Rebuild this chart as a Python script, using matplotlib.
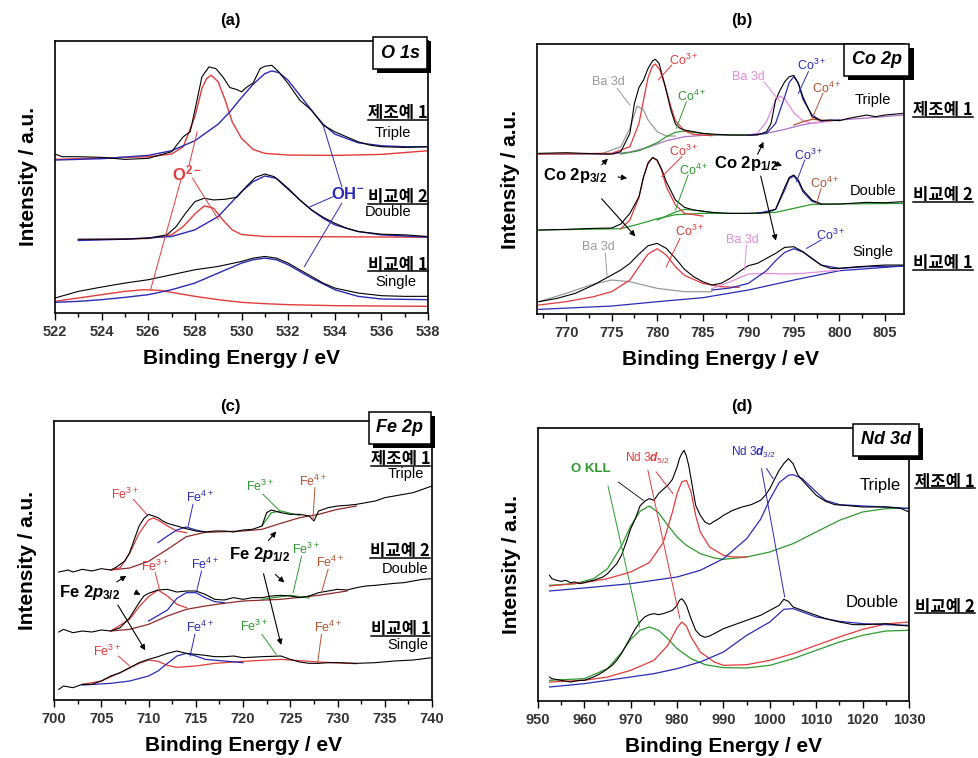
import matplotlib
matplotlib.use("Agg")
import matplotlib.pyplot as plt
import matplotlib.patheffects as pe
from matplotlib.lines import Line2D
from matplotlib.ticker import MultipleLocator

plt.rcParams['font.family'] = ['Liberation Sans', 'Noto Sans CJK KR', 'DejaVu Sans']
plt.rcParams['mathtext.fontset'] = 'custom'
plt.rcParams['mathtext.it'] = 'Liberation Sans:italic:bold'
plt.rcParams['mathtext.default'] = 'regular'

RED = '#e23b3b'
BLUE = '#2b2bb5'
GREEN = '#2f9a2f'
GRAY = '#9a9a9a'
PINK = '#e58be0'
BROWN = '#b5532f'
VIOLET = '#b070c8'
DKRED = '#8e2a2a'

# ---------------- (a) O 1s : (binding energy, intensity a.u.) ----------------
a_tri_data = [(522, 478), (522.3, 470), (523, 470), (524, 468), (525, 462), (526, 465), (527, 485),
              (527.5, 530), (527.8, 545), (528, 610), (528.3, 710), (528.6, 740), (528.9, 735),
              (529.2, 710), (529.5, 678), (529.8, 672), (530, 665), (530.2, 678), (530.5, 692),
              (530.8, 735), (531, 742), (531.3, 745), (531.6, 725), (532, 690), (532.5, 640),
              (533, 610), (533.5, 565), (534, 545), (534.5, 530), (535, 515), (535.5, 505),
              (536, 500), (537, 498), (538, 500)]
a_tri_o2 = [(522, 462), (524, 466), (526, 470), (527, 478), (527.5, 500), (528, 590), (528.3, 675),
            (528.5, 705), (528.7, 715), (529, 695), (529.3, 640), (529.6, 575), (530, 525),
            (530.5, 492), (531, 480), (532, 475), (534, 474), (536, 477), (538, 488)]
a_tri_oh = [(522, 460), (524, 464), (526, 474), (527, 488), (528, 518), (529, 568), (529.5, 605),
            (530, 648), (530.5, 688), (531, 720), (531.3, 728), (531.6, 723), (532, 700),
            (532.5, 655), (533, 610), (533.5, 568), (534, 538), (535, 512), (536, 503),
            (537, 500), (538, 500)]
a_dbl_data = [(523, 222), (524, 222), (525, 222), (526, 225), (526.8, 235), (527.2, 260), (527.6, 300),
              (528, 335), (528.4, 345), (528.8, 340), (529.3, 342), (529.8, 348), (530.2, 380),
              (530.6, 408), (531, 418), (531.4, 410), (532, 372), (532.5, 340), (533, 310),
              (533.5, 288), (534, 270), (534.5, 255), (535, 245), (536, 237), (537, 235), (538, 230)]
a_dbl_o2 = [(523, 220), (526, 224), (527, 235), (527.5, 260), (528, 298), (528.4, 322), (528.8, 315),
            (529.2, 280), (529.6, 250), (530, 236), (531, 230), (538, 228)]
a_dbl_oh = [(523, 218), (525, 222), (527, 230), (528, 250), (529, 290), (530, 365), (530.5, 395),
            (531, 412), (531.5, 405), (532, 375), (532.5, 340), (533, 310), (533.5, 285),
            (534, 265), (535, 245), (536, 235), (538, 228)]
a_sgl_data = [(522, 45), (522.5, 55), (523, 65), (524, 78), (525, 90), (526, 100), (527, 115),
              (528, 130), (529, 140), (530, 155), (530.5, 165), (531, 170), (531.5, 165),
              (532, 150), (532.5, 130), (533, 110), (533.5, 90), (534, 75), (535, 60),
              (536, 52), (537, 50), (538, 50)]
a_sgl_o2 = [(522, 35), (523, 45), (524, 55), (525, 65), (525.8, 70), (526.5, 68), (527, 62),
            (528, 50), (529, 40), (530, 32), (531, 28), (532, 25), (534, 22), (538, 20)]
a_sgl_oh = [(522, 32), (523, 35), (524, 40), (525, 47), (526, 55), (527, 70), (528, 90),
            (529, 120), (530, 150), (530.5, 160), (531, 165), (531.5, 160), (532, 145),
            (532.5, 125), (533, 105), (534, 70), (535, 50), (536, 42), (538, 40)]

# ---------------- (b) Co 2p ----------------
b_tri_data = [(767, 482), (770, 484), (772, 482), (774, 480), (775, 480), (776, 487), (777, 542),
              (777.5, 632), (778, 680), (778.5, 702), (779, 737), (779.5, 760), (779.8, 764),
              (780.2, 752), (780.8, 692), (781.5, 612), (782, 570), (782.5, 557), (783, 552),
              (784, 547), (785, 542), (786, 540), (788, 537), (790, 537), (791, 537), (792, 547),
              (792.5, 572), (793, 642), (793.5, 672), (794, 697), (794.5, 712), (795, 716),
              (795.5, 692), (796, 652), (796.5, 622), (797, 592), (798, 580), (799, 582),
              (800, 580), (801, 587), (802, 592), (803, 597), (804, 592), (805, 597), (807, 602)]
b_tri_co3a = [(767, 480), (775, 482), (777, 502), (778, 572), (778.5, 642), (779, 710), (779.5, 745),
              (779.8, 750), (780.3, 732), (781, 672), (781.5, 622), (782, 580), (783, 549),
              (784, 539), (786, 535)]
b_tri_ba1 = [(767, 479), (774, 482), (776, 502), (777, 557), (777.8, 624), (778.5, 612), (779, 582),
             (780, 547), (781, 534), (782, 534)]
b_tri_co4a = [(776, 480), (778, 490), (780, 514), (781, 532), (782, 545), (783, 549), (784, 545),
              (786, 538), (790, 537)]
b_tri_bg = [(767, 479), (775, 480), (777, 486), (779, 500), (781, 520), (783, 532), (785, 536),
            (790, 537), (792, 542), (794, 554), (796, 568), (798, 577), (800, 582), (803, 588),
            (807, 597)]
b_tri_ba2 = [(790, 537), (791, 542), (792, 577), (793, 642), (793.5, 654), (794, 646), (795, 604),
             (796, 580), (797, 572), (799, 578)]
b_tri_co3b = [(790, 536), (792, 542), (793, 572), (794, 652), (794.5, 695), (795, 712), (795.5, 692),
              (796, 644), (797, 597), (798, 580), (800, 582)]
b_tri_co4b = [(795, 567), (796, 577), (797, 584), (798, 582), (799, 580)]
b_dbl_data = [(767, 252), (770, 254), (773, 257), (775, 258), (776, 270), (777, 302), (778, 352),
              (778.5, 412), (779, 452), (779.5, 470), (780, 462), (780.5, 434), (781, 397),
              (781.5, 370), (782, 342), (783, 320), (784, 312), (786, 305), (788, 302), (790, 302),
              (792, 304), (793, 314), (794, 380), (794.5, 410), (795, 417), (795.5, 402),
              (796, 372), (797, 342), (798, 330), (800, 330), (803, 335), (805, 334), (807, 337)]
b_dbl_co3a = [(776, 256), (777, 282), (778, 350), (778.5, 410), (779, 455), (779.5, 469), (780, 460),
              (780.5, 430), (781, 382), (782, 327), (783, 302), (785, 294)]
b_dbl_bg = [(767, 252), (776, 256), (778, 270), (780, 286), (782, 298), (785, 302), (790, 302),
            (793, 305), (795, 317), (797, 329), (800, 330), (807, 332)]
b_dbl_co4a = [(780, 282), (782, 306), (783, 314), (784, 312), (786, 305)]
b_dbl_co3b = [(791, 302), (793, 314), (794, 372), (794.5, 406), (795, 414), (795.5, 397), (796, 367),
              (797, 338), (798, 330)]
b_sgl_data = [(767, 37), (769, 47), (771, 62), (773, 87), (775, 117), (776, 132), (777, 152), (778, 180),
              (779, 205), (780, 212), (781, 197), (782, 167), (783, 134), (784, 112), (785, 97),
              (786, 87), (787, 92), (788, 107), (789, 127), (790, 145), (791, 152), (792, 167),
              (793, 182), (794, 200), (795, 202), (796, 187), (797, 167), (798, 147), (799, 137),
              (800, 137), (802, 142), (805, 147), (807, 147)]
b_sgl_co3a = [(767, 27), (770, 37), (773, 52), (775, 67), (777, 102), (778, 142), (779, 180), (780, 196),
              (781, 177), (782, 142), (783, 116), (785, 92), (787, 82), (789, 80)]
b_sgl_ba1 = [(767, 37), (770, 62), (773, 90), (775, 102), (777, 97), (780, 77), (783, 67), (786, 67)]
b_sgl_ba2 = [(786, 76), (788, 97), (790, 120), (792, 122), (794, 120), (796, 122), (800, 132)]
b_sgl_co3b = [(786, 72), (788, 78), (790, 92), (792, 130), (793, 160), (794, 185), (795, 196),
              (796, 186), (797, 166), (798, 147), (800, 137), (803, 142), (807, 144)]
b_sgl_bg = [(767, 14), (775, 24), (780, 37), (785, 49), (790, 72), (795, 102), (800, 130), (807, 144)]

# ---------------- (c) Fe 2p ----------------
c_tri_data = [(700.5, 384), (701.5, 390), (702, 384), (703, 392), (704, 387), (705, 394), (706, 390),
              (706.5, 397), (707, 407), (707.5, 417), (708, 442), (708.5, 482), (709, 522),
              (709.5, 544), (710, 557), (710.5, 552), (711, 547), (711.5, 537), (712, 530),
              (713, 522), (714, 514), (715, 507), (716, 504), (717, 507), (718, 507), (719, 504),
              (720, 510), (721, 512), (722, 522), (722.5, 562), (723, 570), (724, 562), (725, 557),
              (726, 557), (727, 552), (727.5, 537), (728, 567), (729, 577), (730, 582), (731, 584),
              (732, 587), (733, 592), (734, 597), (735, 607), (736, 612), (737, 617), (738, 622),
              (739, 632), (740, 642)]
c_tri_fe3a = [(706, 390), (707, 397), (708, 440), (709, 500), (710, 540), (710.5, 546), (711, 540),
              (712, 522), (713, 507), (714, 502)]
c_tri_bg = [(706, 390), (708, 396), (710, 416), (712, 452), (714, 490), (716, 503), (718, 505),
            (720, 507), (722, 512), (724, 530), (726, 547), (728, 557), (730, 572), (732, 582)]
c_tri_fe4a = [(711, 472), (712, 492), (713, 510), (714, 519), (715, 510), (716, 504)]
c_tri_fe3b = [(722, 522), (723, 562), (724, 567), (725, 560), (726, 554)]
c_dbl_data = [(700.5, 204), (701, 212), (702, 202), (703, 207), (704, 204), (705, 210), (706, 207),
              (707, 217), (708, 247), (709, 292), (709.5, 312), (710, 320), (711, 330), (712, 332),
              (713, 324), (714, 327), (715, 327), (716, 317), (717, 302), (718, 300), (719, 307),
              (720, 302), (721, 307), (722, 307), (723, 312), (724, 314), (725, 312), (726, 307),
              (727, 312), (728, 322), (729, 327), (730, 332), (731, 330), (732, 337), (733, 342),
              (734, 344), (735, 347), (736, 350), (737, 352), (738, 357), (739, 362), (740, 364)]
c_dbl_fe3a = [(706, 207), (708, 242), (709, 280), (710, 310), (711, 330), (712, 312), (713, 287),
              (714, 277)]
c_dbl_bg = [(706, 207), (708, 212), (710, 227), (712, 252), (714, 272), (716, 282), (718, 290),
            (720, 297), (724, 302), (728, 314), (731, 327)]
c_dbl_fe4a = [(710, 237), (712, 270), (713, 305), (714, 322), (715, 322), (716, 307), (717, 295),
              (718, 292)]
c_dbl_fe3b = [(722, 302), (724, 310), (725, 314), (726, 310), (727, 306)]
c_sgl_data = [(700.5, 32), (701, 42), (702, 37), (703, 47), (704, 47), (705, 57), (706, 72), (707, 82),
              (708, 97), (709, 112), (710, 122), (711, 130), (712, 140), (713, 147), (714, 140),
              (715, 137), (716, 134), (717, 130), (718, 130), (719, 132), (720, 127), (722, 130),
              (724, 132), (725, 122), (726, 114), (727, 110), (728, 110), (729, 112), (730, 112),
              (732, 110), (734, 112), (736, 117), (738, 120), (740, 127)]
c_sgl_fe3a = [(703, 47), (705, 57), (707, 82), (709, 110), (710, 120), (711, 116), (712, 104),
              (713, 98), (715, 102), (717, 110), (720, 116), (724, 122), (728, 114), (732, 109)]
c_sgl_fe4a = [(703, 45), (706, 50), (708, 57), (710, 72), (711, 87), (712, 110), (713, 132),
              (714, 140), (715, 132), (716, 122), (718, 117), (720, 112)]

# ---------------- (d) Nd 3d ----------------
d_tri_data = [(952.5, 377), (953, 367), (954, 362), (955, 359), (956, 362), (957, 355), (958, 357),
              (959, 352), (960, 355), (961, 359), (962, 362), (963, 367), (964, 372), (965, 382),
              (966, 397), (967, 412), (968, 437), (969, 475), (970, 517), (971, 547), (972, 585),
              (973, 599), (974, 607), (975, 602), (976, 622), (977, 635), (978, 647), (979, 665),
              (980, 702), (980.5, 727), (981, 742), (981.5, 752), (982, 735), (982.5, 707),
              (983, 667), (984, 587), (985, 557), (986, 537), (987, 530), (988, 539), (989, 547),
              (990, 557), (992, 572), (994, 582), (996, 589), (998, 602), (999, 617), (1000, 637),
              (1001, 665), (1002, 692), (1003, 712), (1004, 727), (1005, 712), (1006, 679),
              (1007, 662), (1008, 647), (1010, 617), (1012, 599), (1014, 589), (1016, 587),
              (1020, 582), (1025, 582), (1028, 579), (1030, 567)]
d_tri_okll = [(952.5, 347), (958, 352), (962, 367), (965, 397), (968, 465), (970, 525), (972, 569),
              (974, 585), (976, 565), (978, 527), (980, 492), (982, 467), (985, 442), (988, 429),
              (990, 425), (995, 432), (1000, 447), (1005, 472), (1010, 507), (1015, 542),
              (1020, 567), (1025, 577), (1030, 579)]
d_tri_nd52 = [(952.5, 345), (960, 355), (965, 367), (970, 387), (974, 415), (977, 475), (979, 567),
              (980, 622), (981, 657), (982, 662), (983, 627), (984, 557), (985, 507), (987, 462),
              (990, 437), (992, 432), (995, 432)]
d_tri_nd32 = [(952.5, 330), (960, 339), (970, 352), (980, 372), (985, 392), (990, 427), (995, 487),
              (998, 545), (1000, 605), (1002, 655), (1004, 677), (1005, 679), (1007, 667),
              (1010, 627), (1012, 602), (1015, 589), (1020, 585), (1025, 582), (1030, 577)]
d_dbl_data = [(952.5, 72), (953, 67), (955, 62), (957, 57), (959, 62), (960, 62), (962, 72), (963, 79),
              (964, 87), (965, 97), (966, 107), (967, 122), (968, 142), (969, 167), (970, 192),
              (971, 217), (972, 237), (973, 252), (974, 259), (975, 262), (976, 259), (977, 262),
              (978, 267), (979, 272), (980, 287), (980.5, 302), (981, 307), (981.5, 299), (982, 287),
              (983, 247), (984, 212), (985, 197), (986, 191), (987, 195), (988, 202), (990, 217),
              (992, 227), (994, 237), (996, 247), (998, 257), (1000, 272), (1002, 287), (1003, 305),
              (1004, 299), (1005, 282), (1006, 277), (1008, 267), (1010, 257), (1012, 247),
              (1015, 237), (1018, 229), (1020, 229), (1025, 232), (1028, 227), (1030, 225)]
d_dbl_okll = [(952.5, 62), (960, 67), (965, 97), (968, 145), (970, 185), (972, 212), (974, 222),
              (976, 212), (978, 187), (980, 157), (983, 127), (986, 109), (990, 100), (995, 99),
              (1000, 107), (1005, 127), (1010, 152), (1015, 177), (1020, 197), (1025, 210),
              (1030, 212)]
d_dbl_nd52 = [(952.5, 57), (960, 62), (965, 72), (970, 92), (975, 122), (978, 167), (980, 220),
              (981, 237), (982, 225), (983, 192), (985, 147), (988, 117), (990, 107), (995, 109),
              (1000, 122), (1005, 142), (1010, 167), (1015, 192), (1020, 215), (1025, 231),
              (1030, 237)]
d_dbl_nd32 = [(952.5, 42), (960, 52), (970, 72), (975, 82), (980, 97), (985, 117), (990, 147),
              (995, 197), (1000, 237), (1003, 275), (1005, 277), (1007, 267), (1010, 252),
              (1015, 239), (1020, 232), (1025, 229), (1030, 227)]


def curve(ax, pts, color, lw=0.9, z=2):
    xs, ys = zip(*pts)
    ax.plot(xs, ys, color=color, lw=lw, zorder=z)


def link(ax, x0, y0, x1, y1, color, lw=0.7):
    ax.plot([x0, x1], [y0, y1], color=color, lw=lw, zorder=4)


def arrow(ax, x0, y0, x1, y1):
    ax.annotate('', xy=(x1, y1), xytext=(x0, y0),
                arrowprops=dict(arrowstyle='-|>', color='black', lw=0.8, mutation_scale=8), zorder=5)


def lab(ax, x, y, s, color, size=8.5, **kw):
    ax.text(x, y, s, color=color, fontsize=size, ha='center', va='center', zorder=6, **kw)


def tag(ax, x, y, s):
    t = ax.text(x, y, s, transform=ax.transAxes, ha='center', va='center', fontsize=13,
                fontweight='bold', fontstyle='italic', clip_on=False, zorder=11,
                bbox=dict(boxstyle='square,pad=0.42', fc='white', ec='black', lw=1.1))
    t.get_bbox_patch().set_path_effects([
        pe.SimplePatchShadow(offset=(3, -3), shadow_rgbFace='black', alpha=1.0), pe.Normal()])


underlined = []


def korean(ax, x, y, s, ha='right'):
    t = ax.text(x, y, s, fontsize=12, fontweight='bold', ha=ha, va='center',
                family=['Noto Sans CJK KR'], clip_on=False, zorder=6)
    underlined.append(t)


def style(ax, xlim, ylim, major, minor):
    ax.set_xlim(*xlim)
    ax.set_ylim(*ylim)
    ax.set_yticks([])
    ax.xaxis.set_major_locator(MultipleLocator(major))
    ax.xaxis.set_minor_locator(MultipleLocator(minor))
    ax.tick_params(axis='x', which='major', direction='out', length=5, width=1,
                   labelsize=10.5, labelcolor='#333333')
    ax.tick_params(axis='x', which='minor', direction='out', length=3, width=1)
    for lbl in ax.get_xticklabels():
        lbl.set_fontweight('bold')
    for sp in ax.spines.values():
        sp.set_linewidth(1.2)
    ax.set_xlabel('Binding Energy / eV', fontsize=15, fontweight='bold', labelpad=7)
    ax.set_ylabel('Intensity / a.u.', fontsize=15, fontweight='bold', labelpad=12)


fig = plt.figure(figsize=(9.79, 7.58), dpi=100)
ax_a = fig.add_axes([0.0562, 0.5871, 0.3810, 0.3588])
ax_b = fig.add_axes([0.5485, 0.5857, 0.3749, 0.3562])
ax_c = fig.add_axes([0.0552, 0.0765, 0.3861, 0.3681])
ax_d = fig.add_axes([0.5495, 0.0752, 0.3790, 0.3602])

for s, x, y in [('(a)', 230, 20), ('(b)', 742, 20), ('(c)', 230, 406), ('(d)', 742, 406)]:
    fig.text(x / 979, 1 - y / 758, s, fontsize=12, fontweight='bold', ha='center', va='center')

# ---- (a)
ax = ax_a
for pts, c in [(a_tri_o2, RED), (a_tri_oh, BLUE), (a_dbl_o2, RED), (a_dbl_oh, BLUE),
               (a_sgl_o2, RED), (a_sgl_oh, BLUE)]:
    curve(ax, pts, c, lw=1.0)
for pts in [a_tri_data, a_dbl_data, a_sgl_data]:
    curve(ax, pts, 'black', lw=0.8, z=3)
style(ax, (522, 538), (0, 818), 2, 1)
lab(ax, 527.67, 420, r'O$^{2-}$', RED, size=12, fontweight='bold')
link(ax, 527.75, 445, 528.1, 545, RED)
link(ax, 527.4, 400, 526.1, 70, RED)
link(ax, 527.9, 405, 529.0, 282, RED)
lab(ax, 534.57, 358, r'OH$^{-}$', BLUE, size=12, fontweight='bold')
link(ax, 534.3, 380, 533.5, 565, BLUE)
link(ax, 534.0, 352, 532.9, 318, BLUE)
link(ax, 534.3, 330, 532.7, 140, BLUE)
korean(ax, 538, 600, '제조예 1')
lab(ax, 536.5, 540, 'Triple', 'black', size=10.5)
korean(ax, 538, 348, '비교예 2')
lab(ax, 536.3, 303, 'Double', 'black', size=10.5)
korean(ax, 538, 145, '비교예 1')
lab(ax, 536.6, 92, 'Single', 'black', size=10.5)
tag(ax, 0.925, 0.955, 'O 1s')

# ---- (b)
ax = ax_b
for pts, c in [(b_tri_bg, VIOLET), (b_tri_ba1, GRAY), (b_tri_co4a, GREEN), (b_tri_co3a, RED),
               (b_tri_ba2, PINK), (b_tri_co3b, BLUE), (b_tri_co4b, BROWN),
               (b_dbl_bg, GREEN), (b_dbl_co4a, GREEN), (b_dbl_co3a, RED), (b_dbl_co3b, BLUE),
               (b_sgl_bg, BLUE), (b_sgl_ba1, GRAY), (b_sgl_co3a, RED), (b_sgl_ba2, PINK),
               (b_sgl_co3b, BLUE)]:
    curve(ax, pts, c)
for pts in [b_tri_data, b_dbl_data, b_sgl_data]:
    curve(ax, pts, 'black', lw=0.8, z=3)
style(ax, (766.8, 807.1), (0, 810), 5, 2.5)
lab(ax, 774.6, 697, 'Ba 3d', GRAY, size=9)
lab(ax, 782.9, 762, r'Co$^{3+}$', RED, size=9)
lab(ax, 783.8, 652, r'Co$^{4+}$', GREEN, size=9)
lab(ax, 790.0, 712, 'Ba 3d', PINK, size=9)
lab(ax, 797.0, 747, r'Co$^{3+}$', BLUE, size=9)
lab(ax, 798.6, 677, r'Co$^{4+}$', BROWN, size=9)
link(ax, 775.6, 677, 777.0, 627, GRAY)
link(ax, 781.6, 747, 780.1, 702, RED)
link(ax, 783.2, 637, 782.1, 557, GREEN)
link(ax, 791.7, 697, 793.5, 637, PINK)
link(ax, 796.6, 727, 795.5, 662, BLUE)
link(ax, 798.2, 662, 797.0, 587, BROWN)
lab(ax, 782.9, 487, r'Co$^{3+}$', RED, size=9)
lab(ax, 784.0, 432, r'Co$^{4+}$', GREEN, size=9)
lab(ax, 796.6, 477, r'Co$^{3+}$', BLUE, size=9)
lab(ax, 798.4, 392, r'Co$^{4+}$', BROWN, size=9)
link(ax, 782.7, 472, 780.5, 412, RED)
link(ax, 783.4, 417, 782.0, 312, GREEN)
link(ax, 796.2, 462, 795.3, 397, BLUE)
link(ax, 798.0, 377, 797.5, 332, BROWN)
lab(ax, 773.5, 202, 'Ba 3d', GRAY, size=9)
lab(ax, 783.6, 247, r'Co$^{3+}$', RED, size=9)
lab(ax, 789.3, 222, 'Ba 3d', PINK, size=9)
lab(ax, 799.0, 237, r'Co$^{3+}$', BLUE, size=9)
link(ax, 774.3, 182, 774.5, 112, GRAY)
link(ax, 782.5, 227, 781.0, 142, RED)
link(ax, 789.8, 207, 789.6, 132, PINK)
link(ax, 798.0, 222, 796.4, 197, BLUE)
lab(ax, 771.0, 417, r'Co 2p$_{3/2}$', 'black', size=12, fontweight='bold')
lab(ax, 789.8, 452, r'Co 2p$_{1/2}$', 'black', size=12, fontweight='bold')
arrow(ax, 773.7, 442, 774.8, 472)
arrow(ax, 775.4, 412, 777.0, 407)
arrow(ax, 773.7, 352, 777.8, 227)
arrow(ax, 790.9, 472, 791.8, 524)
arrow(ax, 792.4, 457, 794.0, 442)
arrow(ax, 791.3, 422, 793.1, 212)
lab(ax, 803.7, 642, 'Triple', 'black', size=10.5)
lab(ax, 803.7, 370, 'Double', 'black', size=10.5)
lab(ax, 803.7, 185, 'Single', 'black', size=10.5)
korean(ax, 811.4, 612, '제조예 1', ha='center')
korean(ax, 811.4, 357, '비교예 2', ha='center')
korean(ax, 811.4, 152, '비교예 1', ha='center')
tag(ax, 0.926, 0.941, 'Co 2p')

# ---- (c)
ax = ax_c
for pts, c in [(c_tri_bg, DKRED), (c_tri_fe3a, RED), (c_tri_fe4a, BLUE), (c_tri_fe3b, GREEN),
               (c_dbl_bg, DKRED), (c_dbl_fe3a, RED), (c_dbl_fe4a, BLUE), (c_dbl_fe3b, GREEN),
               (c_sgl_fe3a, RED), (c_sgl_fe4a, BLUE)]:
    curve(ax, pts, c)
for pts in [c_tri_data, c_dbl_data, c_sgl_data]:
    curve(ax, pts, 'black', lw=0.8, z=3)
style(ax, (700, 740), (0, 837), 5, 2.5)
lab(ax, 707.5, 617, r'Fe$^{3+}$', RED, size=9)
lab(ax, 715.4, 607, r'Fe$^{4+}$', BLUE, size=9)
lab(ax, 721.8, 642, r'Fe$^{3+}$', GREEN, size=9)
lab(ax, 727.4, 657, r'Fe$^{4+}$', BROWN, size=9)
link(ax, 708.4, 602, 709.8, 557, RED)
link(ax, 714.7, 587, 714.2, 522, BLUE)
link(ax, 722.1, 617, 723.9, 567, GREEN)
link(ax, 727.6, 637, 727.4, 542, BROWN)
lab(ax, 710.7, 402, r'Fe$^{3+}$', RED, size=9)
lab(ax, 716.0, 407, r'Fe$^{4+}$', BLUE, size=9)
lab(ax, 726.7, 452, r'Fe$^{3+}$', GREEN, size=9)
lab(ax, 729.2, 412, r'Fe$^{4+}$', BROWN, size=9)
link(ax, 710.7, 382, 711.2, 327, RED)
link(ax, 715.6, 387, 715.1, 327, BLUE)
link(ax, 726.2, 432, 725.3, 322, GREEN)
link(ax, 729.0, 392, 728.3, 322, BROWN)
lab(ax, 705.6, 147, r'Fe$^{3+}$', RED, size=9)
lab(ax, 715.4, 217, r'Fe$^{4+}$', BLUE, size=9)
lab(ax, 721.1, 222, r'Fe$^{3+}$', GREEN, size=9)
lab(ax, 729.0, 217, r'Fe$^{4+}$', BROWN, size=9)
link(ax, 706.8, 132, 708.0, 102, RED)
link(ax, 714.9, 197, 714.4, 132, BLUE)
link(ax, 722.0, 197, 723.5, 137, GREEN)
link(ax, 728.3, 197, 727.9, 112, BROWN)
lab(ax, 721.8, 437, r'Fe 2$\mathit{p}_{1/2}$', 'black', size=12, fontweight='bold')
lab(ax, 703.8, 322, r'Fe 2$\mathit{p}_{3/2}$', 'black', size=12, fontweight='bold')
arrow(ax, 706.4, 350, 707.9, 377)
arrow(ax, 708.7, 322, 709.4, 312)
arrow(ax, 706.6, 292, 709.8, 142)
arrow(ax, 722.5, 472, 723.7, 512)
arrow(ax, 723.2, 382, 724.6, 347)
arrow(ax, 722.1, 387, 724.1, 157)
korean(ax, 739.8, 722, '제조예 1')
lab(ax, 737.2, 677, 'Triple', 'black', size=10.5)
korean(ax, 739.8, 447, '비교예 2')
lab(ax, 737.1, 394, 'Double', 'black', size=10.5)
korean(ax, 739.8, 212, '비교예 1')
lab(ax, 737.4, 165, 'Single', 'black', size=10.5)
tag(ax, 0.915, 0.975, 'Fe 2p')

# ---- (d)
ax = ax_d
for pts, c in [(d_tri_okll, GREEN), (d_tri_nd52, RED), (d_tri_nd32, BLUE),
               (d_dbl_okll, GREEN), (d_dbl_nd52, RED), (d_dbl_nd32, BLUE)]:
    curve(ax, pts, c)
for pts in [d_tri_data, d_dbl_data]:
    curve(ax, pts, 'black', lw=0.8, z=3)
style(ax, (950, 1030), (0, 819), 10, 5)
lab(ax, 961.5, 697, 'O KLL', GREEN, size=9.5, fontweight='bold')
lab(ax, 973.7, 727, r'Nd 3$\mathit{d}_{5/2}$', RED, size=8.5)
lab(ax, 996.4, 745, r'Nd 3$\mathit{d}_{3/2}$', BLUE, size=8.5)
link(ax, 965.1, 645, 971.9, 222, GREEN)
link(ax, 967.3, 657, 972.7, 602, 'black', lw=0.6)
link(ax, 973.7, 692, 980.6, 247, RED)
link(ax, 975.5, 687, 979.1, 622, RED)
link(ax, 998.2, 697, 1003.2, 312, BLUE)
link(ax, 999.3, 697, 1000.7, 667, BLUE)
lab(ax, 1023.7, 645, 'Triple', 'black', size=12)
lab(ax, 1022.0, 294, 'Double', 'black', size=12)
korean(ax, 1037.8, 657, '제조예 1', ha='center')
korean(ax, 1037.8, 282, '비교예 2', ha='center')
tag(ax, 0.938, 0.956, 'Nd 3d')

# underline the Korean sample names
fig.canvas.draw()
renderer = fig.canvas.get_renderer()
W, H = fig.bbox.width, fig.bbox.height
for t in underlined:
    bb = t.get_window_extent(renderer)
    yy = (bb.y0 + 2.5) / H
    fig.add_artist(Line2D([bb.x0 / W, bb.x1 / W], [yy, yy], transform=fig.transFigure,
                          color='black', lw=1.1))

fig.savefig('out.png', dpi=100)
plt.close(fig)
